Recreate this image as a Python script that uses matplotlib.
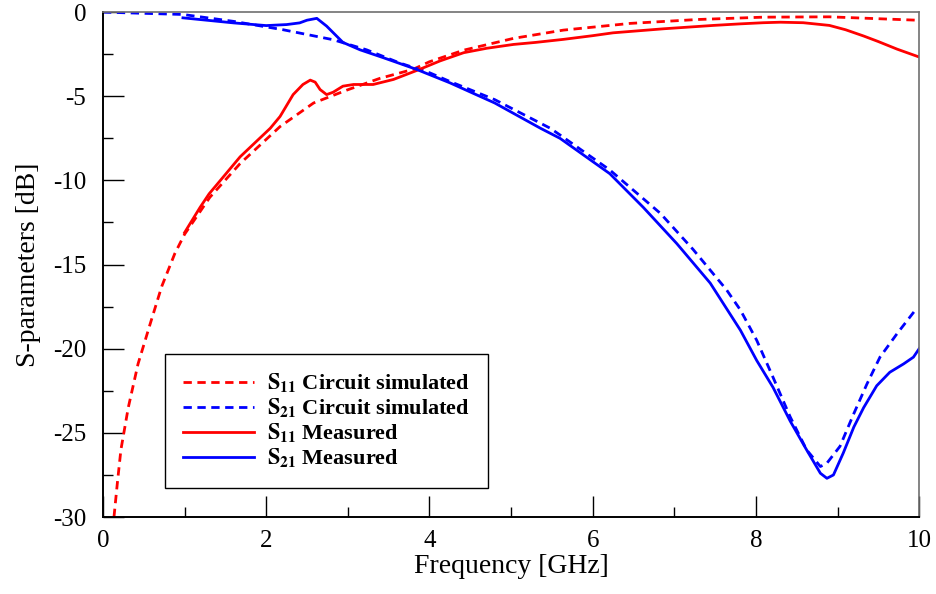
import matplotlib
matplotlib.use("Agg")
import matplotlib.pyplot as plt
from matplotlib.ticker import MultipleLocator

plt.rcParams['font.family'] = ['Liberation Serif', 'DejaVu Serif']
plt.rcParams['mathtext.fontset'] = 'stix'
plt.rcParams['axes.unicode_minus'] = False

# S11 circuit simulated
s11_sim_f = [0.135, 0.176, 0.22, 0.31, 0.43, 0.58, 0.72, 0.88, 1.0, 1.31, 1.68, 2.17,
             2.58, 2.99, 3.39, 3.80, 4.0, 4.42, 5.03, 5.64, 6.46, 7.28, 8.09, 8.9, 9.97]
s11_sim_db = [-30.0, -28.0, -26.0, -23.5, -20.9, -18.5, -16.3, -14.35, -13.2, -11.0,
              -9.0, -6.8, -5.4, -4.63, -3.94, -3.4, -2.95, -2.26, -1.56, -1.07, -0.67,
              -0.44, -0.3, -0.28, -0.48]

# S21 circuit simulated
s21_sim_f = [0.0, 0.98, 1.6, 2.21, 2.82, 3.23, 3.64, 4.0, 4.25, 4.8, 5.48, 5.6, 6.21,
             6.83, 7.23, 7.64, 7.81, 8.01, 8.21, 8.42, 8.62, 8.79, 8.87, 9.03, 9.20,
             9.36, 9.52, 9.73, 9.97]
s21_sim_db = [0.0, -0.14, -0.55, -1.05, -1.64, -2.24, -3.03, -3.6, -4.12, -5.2, -6.9,
              -7.3, -9.38, -11.96, -14.1, -16.5, -17.7, -19.5, -21.7, -24.05, -26.0,
              -27.0, -26.8, -25.8, -23.85, -22.1, -20.5, -19.1, -17.6]

# S11 measured
s11_meas_f = [1.0, 1.19, 1.3, 1.43, 1.68, 2.05, 2.17, 2.33, 2.45, 2.54, 2.60, 2.66, 2.74,
              2.82, 2.94, 3.07, 3.31, 3.56, 3.88, 4.13, 4.42, 4.7, 5.03, 5.3, 5.64,
              6.0, 6.25, 6.87, 7.48, 7.8, 8.09, 8.3, 8.58, 8.9, 9.1, 9.32, 9.5, 9.73,
              9.99]
s11_meas_db = [-13.1, -11.6, -10.8, -10.05, -8.6, -6.9, -6.2, -4.9, -4.3, -4.04, -4.16,
               -4.6, -4.9, -4.76, -4.4, -4.3, -4.3, -4.0, -3.4, -2.9, -2.41, -2.15, -1.92,
               -1.8, -1.62, -1.4, -1.23, -0.99, -0.79, -0.7, -0.63, -0.6, -0.63, -0.79,
               -1.05, -1.42, -1.75, -2.2, -2.65]

# S21 measured
s21_meas_f = [0.98, 1.6, 2.0, 2.25, 2.41, 2.5, 2.62, 2.74, 2.94, 3.15, 3.43, 3.84,
              4.25, 4.8, 5.36, 5.6, 6.21, 6.62, 7.03, 7.44, 7.81, 8.01, 8.21, 8.42,
              8.62, 8.79, 8.87, 8.95, 9.07, 9.20, 9.32, 9.48, 9.64, 9.81, 9.93, 10.0]
s21_meas_db = [-0.34, -0.64, -0.8, -0.74, -0.64, -0.48, -0.37, -0.83, -1.8, -2.24, -2.7,
               -3.4, -4.2, -5.4, -6.9, -7.5, -9.6, -11.6, -13.75, -16.1, -18.9, -20.7,
               -22.3, -24.3, -26.0, -27.4, -27.7, -27.5, -26.2, -24.65, -23.5, -22.2,
               -21.4, -20.9, -20.5, -20.0]

fig = plt.figure(figsize=(9.36, 5.94), dpi=100)
ax = fig.add_axes([0.110, 0.1296, 0.872, 0.850])

lw = 2.0
dash = (3.0, 2.0)
ax.plot(s11_sim_f, s11_sim_db, color='#ff0000', lw=lw, dashes=dash,
        label=r'$\mathbf{S_{11}}$ Circuit simulated')
ax.plot(s21_sim_f, s21_sim_db, color='#0000ff', lw=lw, dashes=dash,
        label=r'$\mathbf{S_{21}}$ Circuit simulated')
ax.plot(s11_meas_f, s11_meas_db, color='#ff0000', lw=lw,
        label=r'$\mathbf{S_{11}}$ Measured')
ax.plot(s21_meas_f, s21_meas_db, color='#0000ff', lw=lw,
        label=r'$\mathbf{S_{21}}$ Measured')

ax.set_xlim(0, 10)
ax.set_ylim(-30, 0)
ax.xaxis.set_major_locator(MultipleLocator(2))
ax.xaxis.set_minor_locator(MultipleLocator(1))
ax.yaxis.set_major_locator(MultipleLocator(5))
ax.yaxis.set_minor_locator(MultipleLocator(2.5))
ax.tick_params(which='both', direction='in', top=False, right=False, labelsize=18)
ax.tick_params(which='major', length=15, width=1.0)
ax.tick_params(which='minor', length=7.5, width=1.0)
ax.tick_params(axis='x', pad=9)
ax.tick_params(axis='y', pad=12)

for side in ['left', 'bottom']:
    ax.spines[side].set_linewidth(1.4)
for side in ['top', 'right']:
    ax.spines[side].set_color('#707070')
    ax.spines[side].set_linewidth(1.2)

ax.set_xlabel('Frequency [GHz]', fontsize=20, labelpad=2)
ax.set_ylabel('S-parameters [dB]', fontsize=20, labelpad=9)

leg = ax.legend(loc='lower left', bbox_to_anchor=(0.076, 0.057), fancybox=False,
                edgecolor='black', framealpha=1, handlelength=3.2, handletextpad=0.6,
                labelspacing=0.08, borderpad=0.8, borderaxespad=0,
                prop={'weight': 'bold', 'size': 16})
leg.get_frame().set_linewidth(1.0)

fig.savefig('out.png', dpi=100)
